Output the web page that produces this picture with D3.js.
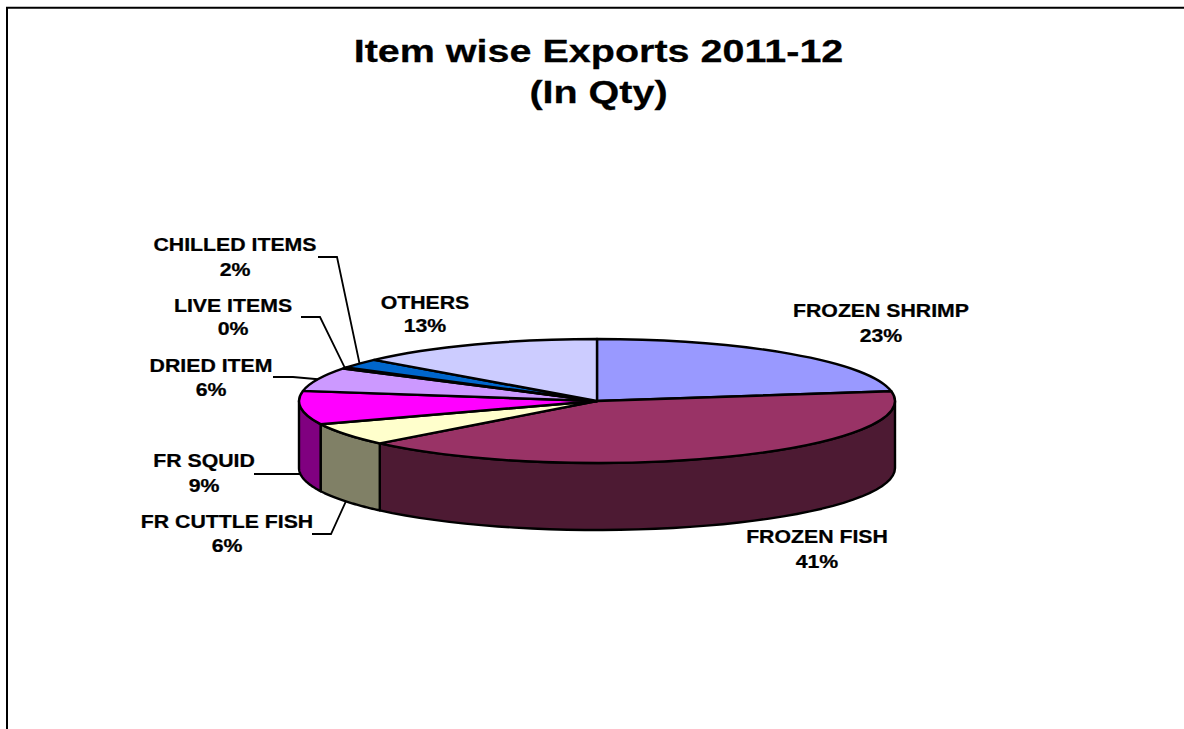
<!DOCTYPE html>
<html>
<head>
<meta charset="utf-8">
<script src="https://cdn.jsdelivr.net/npm/d3@7/dist/d3.min.js"></script>
<style>
  html, body { margin: 0; padding: 0; background: #fff; }
  svg { display: block; }
  text { font-family: "Liberation Sans", Arial, sans-serif; font-weight: bold; fill: #000; stroke: #000; stroke-width: 0.25; }
</style>
</head>
<body>
<svg id="chart" width="1184" height="729"></svg>
<script>
// Export share by item, in percent of quantity, in clockwise order from twelve o'clock.
const items = ["FROZEN SHRIMP", "FROZEN FISH", "FR CUTTLE FISH", "FR SQUID", "DRIED ITEM", "LIVE ITEMS", "CHILLED ITEMS", "OTHERS"];
const shares = [22.5, 40.5, 5.9, 8.7, 6.2, 0.3, 2.45, 13.45];
const topColors = ["#9999FF", "#993366", "#FFFFCC", "#FF00FF", "#CC99FF", "#CCFFFF", "#0066CC", "#CCCCFF"];
const sideColors = ["#4D4D80", "#4D1A33", "#808066", "#800080", "#664D80", "#668080", "#003366", "#666680"];
const titleLines = ["Item wise Exports 2011-12", "(In Qty)"];

// Label placement: name baseline, percent baseline, and the start and elbow of any leader line.
const labelLayout = [
  { x: 881, y: 317, y2: 342 },
  { x: 817, y: 543, y2: 568 },
  { x: 227, y: 528, y2: 552, elbow: [331, 534], start: [312, 534] },
  { x: 204, y: 467, y2: 492, elbow: [300, 474], start: [254, 474] },
  { x: 211, y: 372, y2: 396, elbow: [293, 377], start: [273, 377] },
  { x: 233, y: 312, y2: 335, elbow: [320, 317], start: [301, 317] },
  { x: 235, y: 251, y2: 276, elbow: [337, 257], start: [318, 257] },
  { x: 425, y: 309, y2: 332 }
];

const width = 1184, height = 729;
const cx = 597, cy = 401, rx = 298, ry = 62, depth = 67;
const titleStretch = 1.275, labelStretch = 1.15;

const svg = d3.select("#chart");

// Frame: the top and left edges are the only ones on the page.
svg.append("path")
  .attr("d", d3.line()([[7, height], [7, 7.7], [width, 7.7]]))
  .attr("fill", "none").attr("stroke", "#000").attr("stroke-width", 2);

// Title
svg.append("g").selectAll("text").data(titleLines).join("text")
  .attr("transform", (d, i) => `translate(598.5,${62 + i * 41}) scale(${titleStretch},1)`)
  .attr("text-anchor", "middle")
  .attr("font-size", 31)
  .text(d => d);

const arcs = d3.pie().value(d => d).sort(null)(shares);

const px = a => cx + rx * Math.sin(a);
const py = a => cy - ry * Math.cos(a);

// Side wall: only the part of each slice between 3 and 9 o'clock faces the viewer.
const sideLine = d3.line();
const sides = svg.append("g").attr("stroke", "#000").attr("stroke-width", 2.4).attr("stroke-linejoin", "round");
arcs.forEach((s, i) => {
  const a0 = Math.max(s.startAngle, Math.PI / 2);
  const a1 = Math.min(s.endAngle, 3 * Math.PI / 2);
  if (a1 <= a0) return;
  const steps = d3.range(0, 41).map(k => a0 + (a1 - a0) * k / 40);
  const rim = steps.map(a => [px(a), py(a)]);
  const base = steps.slice().reverse().map(a => [px(a), py(a) + depth]);
  sides.append("path")
    .attr("d", sideLine(rim.concat(base)) + "Z")
    .attr("fill", sideColors[i]);
});

// Top face: circular slices squashed into the ellipse.
const arcGen = d3.arc().innerRadius(0).outerRadius(rx);
svg.append("g")
  .attr("transform", `translate(${cx},${cy}) scale(1,${ry / rx})`)
  .selectAll("path").data(arcs).join("path")
  .attr("d", arcGen)
  .attr("fill", (d, i) => topColors[i])
  .attr("stroke", "#000")
  .attr("stroke-width", 2.4)
  .attr("stroke-linejoin", "round")
  .attr("vector-effect", "non-scaling-stroke");

// Leader lines run from the label to the slice's outer edge at its mid angle.
svg.append("g").selectAll("path")
  .data(arcs.map((s, i) => ({ s, l: labelLayout[i] })).filter(d => d.l.elbow))
  .join("path")
  .attr("d", d => {
    const mid = (d.s.startAngle + d.s.endAngle) / 2;
    const onFront = Math.cos(mid) < 0;
    const tip = [px(mid), py(mid) + (onFront ? depth : 0)];
    return d3.line()([d.l.start, d.l.elbow, tip]);
  })
  .attr("fill", "none").attr("stroke", "#000").attr("stroke-width", 1.8);

// Two-line data labels: category name over rounded percentage.
const labels = svg.append("g").selectAll("g").data(arcs).join("g");
labels.append("text")
  .attr("transform", (d, i) => `translate(${labelLayout[i].x},${labelLayout[i].y}) scale(${labelStretch},1)`)
  .attr("text-anchor", "middle").attr("font-size", 18.5)
  .text((d, i) => items[i]);
labels.append("text")
  .attr("transform", (d, i) => `translate(${labelLayout[i].x},${labelLayout[i].y2}) scale(${labelStretch},1)`)
  .attr("text-anchor", "middle").attr("font-size", 18.5)
  .text(d => Math.round(d.value) + "%");
</script>
</body>
</html>
